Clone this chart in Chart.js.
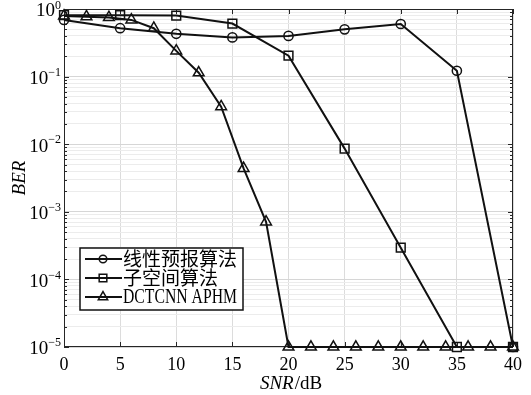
<!DOCTYPE html>
<html lang="zh">
<head>
<meta charset="UTF-8">
<title>BER vs SNR</title>
<script src="https://cdn.jsdelivr.net/npm/chart.js"></script>
<style>
  html, body { margin: 0; padding: 0; background: #fff; }
  #wrap { width: 531px; height: 395px; }
</style>
</head>
<body>
<div id="wrap"><canvas id="ber"></canvas></div>
<script>
// series names (legend order)
const seriesNames = ['线性预报算法', '子空间算法', 'DCTCNN APHM'];

// 线性预报算法
const snrLinear = [0, 5, 10, 15, 20, 25, 30, 35, 40];
const berLinear = [0.69, 0.52, 0.43, 0.38, 0.40, 0.50, 0.60, 0.122, 1e-5];

// 子空间算法
const snrSubspace = [0, 5, 10, 15, 20, 25, 30, 35, 40];
const berSubspace = [0.81, 0.81, 0.80, 0.61, 0.204, 0.0086, 2.95e-4, 1e-5, 1e-5];

// DCTCNN APHM
const snrDct = [0, 2, 4, 6, 8, 10, 12, 14, 16, 18, 20, 22, 24, 26, 28, 30, 32, 34, 36, 38, 40];
const berDct = [0.79, 0.77, 0.75, 0.69, 0.52, 0.24, 0.114, 0.036, 0.0044, 7.1e-4,
                1e-5, 1e-5, 1e-5, 1e-5, 1e-5, 1e-5, 1e-5, 1e-5, 1e-5, 1e-5, 1e-5];

// axis ticks
const xTicks = [0, 5, 10, 15, 20, 25, 30, 35, 40];
const yDecades = [1e-5, 1e-4, 1e-3, 1e-2, 1e-1, 1];

const SERIF = '"Liberation Serif", "DejaVu Serif", serif';
const CJK = '"Noto Sans CJK SC", sans-serif';
const INK = '#111';

function pts(xs, ys) { return xs.map((x, i) => ({ x: x, y: ys[i] })); }
function isDecade(v) { const l = Math.log10(v); return Math.abs(l - Math.round(l)) < 1e-6; }

// grid values: 1..9 per decade
const yGrid = [];
yDecades.forEach(d => {
  if (d === 1) { yGrid.push(1); return; }
  for (let k = 1; k < 10; k++) yGrid.push(+(k * d).toPrecision(3));
});

const markerStyles = [
  { pointStyle: 'circle', radius: 4.6 },
  { pointStyle: 'rect', radius: 6.2 },
  { pointStyle: 'triangle', radius: 6.2 }
];

const frameAndText = {
  id: 'frameAndText',
  beforeDatasetsDraw(chart) {
    const { ctx, chartArea: a, scales } = chart;
    ctx.save();
    ctx.strokeStyle = '#262626';
    ctx.lineWidth = 1;
    ctx.strokeRect(a.left + 0.5, a.top + 0.5, a.right - a.left - 1, a.bottom - a.top - 1);
    ctx.beginPath();
    xTicks.forEach(v => {
      const x = Math.round(scales.x.getPixelForValue(v)) + 0.5;
      ctx.moveTo(x, a.bottom); ctx.lineTo(x, a.bottom - 5);
      ctx.moveTo(x, a.top); ctx.lineTo(x, a.top + 5);
    });
    yGrid.forEach(v => {
      const y = Math.round(scales.y.getPixelForValue(v)) + 0.5;
      const len = isDecade(v) ? 5 : 3;
      ctx.moveTo(a.left, y); ctx.lineTo(a.left + len, y);
      ctx.moveTo(a.right, y); ctx.lineTo(a.right - len, y);
    });
    ctx.stroke();
    ctx.restore();
  },
  afterDraw(chart) {
    const { ctx, chartArea: a, scales } = chart;
    ctx.save();
    ctx.fillStyle = '#000';

    // y tick labels 10^n
    yDecades.forEach(d => {
      const y = scales.y.getPixelForValue(d);
      const e = Math.round(Math.log10(d));
      const sup = e === 0 ? '0' : '\u2212' + Math.abs(e);
      ctx.font = '12px ' + SERIF;
      const sw = ctx.measureText(sup).width;
      const right = a.left - 3;
      ctx.textBaseline = 'middle';
      ctx.textAlign = 'left';
      ctx.fillText(sup, right - sw, Math.max(y - 4, 6));
      ctx.font = '19px ' + SERIF;
      ctx.textAlign = 'right';
      ctx.fillText('10', right - sw, y + 2.5);
    });

    // axis titles
    ctx.save();
    ctx.translate(20, (a.top + a.bottom) / 2);
    ctx.rotate(-Math.PI / 2);
    ctx.font = 'italic 19px ' + SERIF;
    ctx.textAlign = 'center';
    ctx.textBaseline = 'middle';
    ctx.fillText('BER', 0, 0);
    ctx.restore();

    ctx.font = 'italic 19px ' + SERIF;
    const w1 = ctx.measureText('SNR').width;
    ctx.font = '19px ' + SERIF;
    const w2 = ctx.measureText('/dB').width;
    const cx = (a.left + a.right) / 2 + 2;
    const tx = cx - (w1 + w2) / 2;
    ctx.textAlign = 'left';
    ctx.textBaseline = 'middle';
    ctx.font = 'italic 19px ' + SERIF;
    ctx.fillText('SNR', tx, 384);
    ctx.font = '19px ' + SERIF;
    ctx.fillText('/dB', tx + w1 + 1, 384);

    // legend
    const lx = a.left + 16, ly = 248, lw = 163, lh = 62;
    ctx.fillStyle = '#fff';
    ctx.fillRect(lx, ly, lw, lh);
    ctx.strokeStyle = '#111';
    ctx.lineWidth = 1.5;
    ctx.strokeRect(lx, ly, lw, lh);
    seriesNames.forEach((name, i) => {
      const y = ly + 11 + i * 19;
      ctx.strokeStyle = INK;
      ctx.lineWidth = 2;
      ctx.beginPath();
      ctx.moveTo(lx + 5, y); ctx.lineTo(lx + 42, y);
      ctx.stroke();
      ctx.fillStyle = 'rgba(255,255,255,0)';
      ctx.lineWidth = 1.5;
      Chart.helpers.drawPoint(ctx, {
        pointStyle: markerStyles[i].pointStyle,
        radius: markerStyles[i].radius - 0.8,
        rotation: 0,
        borderWidth: 1.5
      }, lx + 23, y);
      ctx.fillStyle = '#000';
      ctx.textAlign = 'left';
      ctx.textBaseline = 'middle';
      if (/[\u4e00-\u9fff]/.test(name)) {
        ctx.font = '19px ' + CJK;
        ctx.fillText(name, lx + 43, y);
      } else {
        ctx.font = '20px ' + SERIF;
        ctx.fillText(name, lx + 43, y + 1, 114);
      }
    });
    ctx.restore();
  }
};

const sets = [pts(snrLinear, berLinear), pts(snrSubspace, berSubspace), pts(snrDct, berDct)];

new Chart(document.getElementById('ber'), {
  type: 'line',
  data: {
    datasets: sets.map((d, i) => ({
      label: seriesNames[i],
      data: d,
      borderColor: INK,
      borderWidth: 2,
      pointStyle: markerStyles[i].pointStyle,
      pointRadius: markerStyles[i].radius,
      pointBorderWidth: 1.5,
      pointBorderColor: INK,
      pointBackgroundColor: 'rgba(255,255,255,0)',
      tension: 0,
      fill: false,
      clip: false
    }))
  },
  options: {
    responsive: true,
    maintainAspectRatio: false,
    animation: false,
    events: [],
    layout: { padding: { top: 9, right: 18, left: 0, bottom: 0 } },
    plugins: { legend: { display: false }, tooltip: { enabled: false } },
    scales: {
      x: {
        type: 'linear',
        min: 0, max: 40,
        afterBuildTicks: s => { s.ticks = xTicks.map(v => ({ value: v })); },
        afterFit: s => { s.height = 48; },
        ticks: { color: '#000', font: { family: SERIF, size: 18 }, padding: 7, maxRotation: 0 },
        grid: { color: '#dcdcdc', lineWidth: 1, drawTicks: false },
        border: { display: false }
      },
      y: {
        type: 'logarithmic',
        min: 1e-5, max: 1,
        afterBuildTicks: s => { s.ticks = yGrid.map(v => ({ value: v, major: isDecade(v) })); },
        afterFit: s => { s.width = 64; },
        ticks: { display: false, autoSkip: false },
        grid: {
          color: c => (c.tick && isDecade(c.tick.value)) ? '#d6d6d6' : '#ececec',
          lineWidth: 1,
          drawTicks: false
        },
        border: { display: false }
      }
    }
  },
  plugins: [frameAndText]
});
</script>
</body>
</html>
